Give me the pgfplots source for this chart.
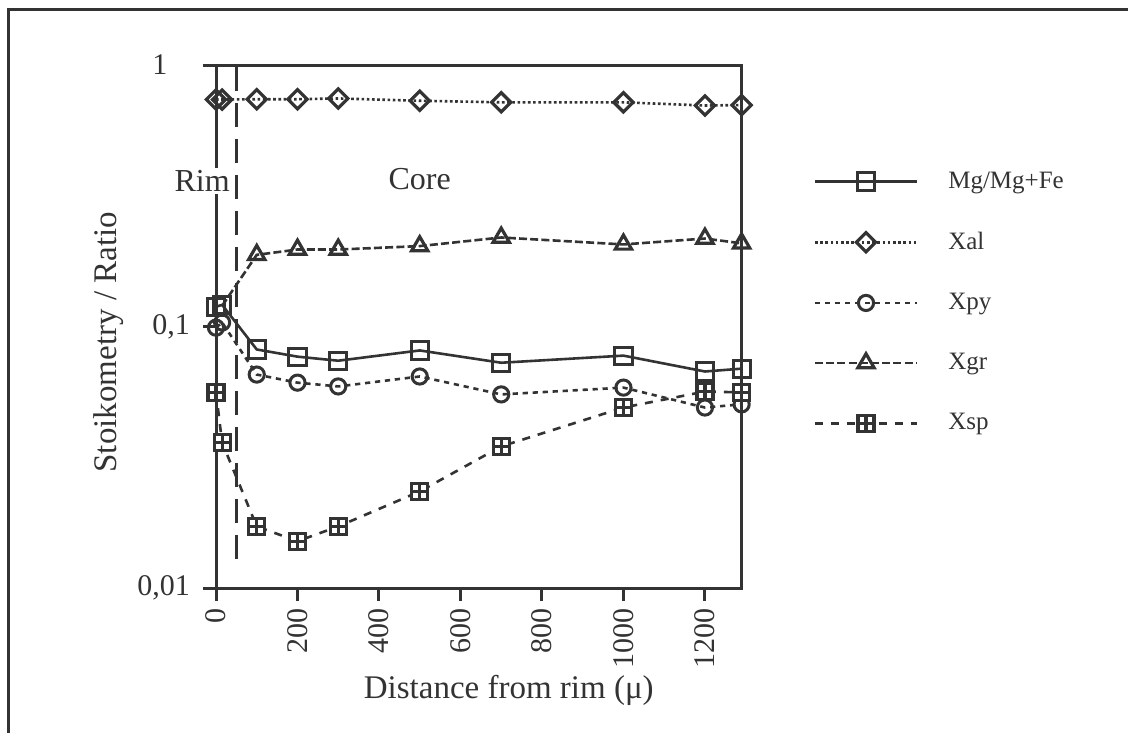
\documentclass[border=0pt]{standalone}
\usepackage{fontspec}
\setmainfont{Liberation Serif}
\usepackage{pgfplots}
\pgfplotsset{compat=1.18}
\definecolor{ink}{HTML}{333333}

% square with a cross in it (Xsp)
\pgfdeclareplotmark{sqplus}{%
  \pgfpathrectangle{\pgfqpoint{-\pgfplotmarksize}{-\pgfplotmarksize}}{\pgfqpoint{2\pgfplotmarksize}{2\pgfplotmarksize}}%
  \pgfusepathqfillstroke
  \pgfpathmoveto{\pgfqpoint{-\pgfplotmarksize}{0pt}}\pgfpathlineto{\pgfqpoint{\pgfplotmarksize}{0pt}}%
  \pgfpathmoveto{\pgfqpoint{0pt}{-\pgfplotmarksize}}\pgfpathlineto{\pgfqpoint{0pt}{\pgfplotmarksize}}%
  \pgfusepathqstroke
}

\begin{document}
\begin{tikzpicture}
\useasboundingbox (0pt,0pt) rectangle (564pt,-366.5pt);
\draw[ink, line width=1.5pt] (4pt,-366.5pt) -- (4pt,-5pt) -- (564pt,-5pt);
\begin{axis}[
    at={(108pt,-294pt)}, anchor=south west,
    scale only axis, width=262.8pt, height=261.5pt,
    xmin=0, xmax=1290, ymode=log, ymin=0.01, ymax=1,
    clip=false,
    axis line style={ink, line width=1.5pt},
    tick style={ink, line width=1.5pt},
    tick align=outside, major tick length=6.5pt,
    xtick pos=bottom, ytick pos=left,
    yminorticks=false,
    xtick={0,200,...,1200},
    ytick={0.01,0.1,1},
    yticklabels={{0,01},{0,1},{1\hphantom{,1}}},
    /pgf/number format/assume math mode=true,
    /pgf/number format/set thousands separator={},
    ticklabel style={font=\fontsize{15}{17}\selectfont, text=ink},
    yticklabel style={xshift=-3pt},
    xticklabel style={rotate=90, anchor=east},
    xlabel={Distance from rim (μ)},
    ylabel={Stoikometry / Ratio},
    label style={font=\fontsize{16.5}{19}\selectfont, text=ink},
    xlabel style={at={(axis description cs:0.557,-0.195)}, anchor=center},
    ylabel style={at={(axis description cs:-0.204,0.47)}, anchor=center},
    every axis plot/.append style={ink, line width=1.3pt},
    legend image code/.code={
        \draw[#1, mark=none] (0pt,0pt) -- (51pt,0pt);
        \draw[#1, mark phase=1, mark repeat=1] plot coordinates {(25.5pt,0pt)};
        \path (65pt,0pt);
    },
    legend style={at={(axis description cs:1.125,0.808)}, anchor=north west,
        draw=none, fill=none, row sep=18.4pt,
        font=\fontsize{12.5}{14}\selectfont, text=ink,
        nodes={inner sep=1pt}},
    legend cell align=left,
]
\addplot[solid, mark=square, mark size=4.3pt,
    mark options={solid, fill=white, line width=1.5pt}] coordinates {
    (0,0.119) (15,0.121) (100,0.0817) (200,0.0767) (300,0.074)
    (500,0.081) (700,0.0727) (1000,0.0774) (1200,0.0673) (1290,0.069)
};
\addlegendentry{Mg/Mg+Fe}

\addplot[dash pattern=on 1.3pt off 1.3pt, mark=square, mark size=3.4pt,
    mark options={solid, fill=white, line width=1.6pt, rotate=45}] coordinates {
    (0,0.738) (15,0.738) (100,0.74) (200,0.74) (300,0.745)
    (500,0.73) (700,0.72) (1000,0.72) (1200,0.70) (1290,0.703)
};
\addlegendentry{Xal}

\addplot[dash pattern=on 2.6pt off 2.4pt, mark=o, mark size=3.8pt,
    mark options={solid, fill=white, line width=1.5pt}] coordinates {
    (0,0.099) (15,0.1036) (100,0.0655) (200,0.061) (300,0.059)
    (500,0.0644) (700,0.055) (1000,0.0584) (1200,0.049) (1290,0.0504)
};
\addlegendentry{Xpy}

\addplot[dash pattern=on 4pt off 1.6pt, mark=triangle, mark size=4.7pt,
    mark phase=2, mark options={solid, fill=white, line width=1.6pt}] coordinates {
    (15,0.12) (100,0.188) (200,0.197) (300,0.197)
    (500,0.203) (700,0.219) (1000,0.206) (1200,0.217) (1290,0.208)
};
\addlegendentry{Xgr}

\addplot[dash pattern=on 4pt off 4pt, mark=sqplus, mark size=4pt,
    mark options={solid, fill=white, line width=1.6pt}] coordinates {
    (0,0.056) (15,0.036) (100,0.0172) (200,0.0151) (300,0.0172)
    (500,0.0234) (700,0.0348) (1000,0.049) (1200,0.0564) (1290,0.056)
};
\addlegendentry{Xsp}

% rim / core boundary
\addplot[forget plot, dash pattern=on 12pt off 6pt, line width=1.4pt, mark=none]
    coordinates {(50,0.0129) (50,1)};

\node[fill=white, inner sep=1pt, text=ink, font=\fontsize{16}{18}\selectfont]
    at (axis cs:-34,0.36) {Rim};
\node[text=ink, font=\fontsize{16}{18}\selectfont] at (axis cs:500,0.365) {Core};
\end{axis}
\end{tikzpicture}
\end{document}
